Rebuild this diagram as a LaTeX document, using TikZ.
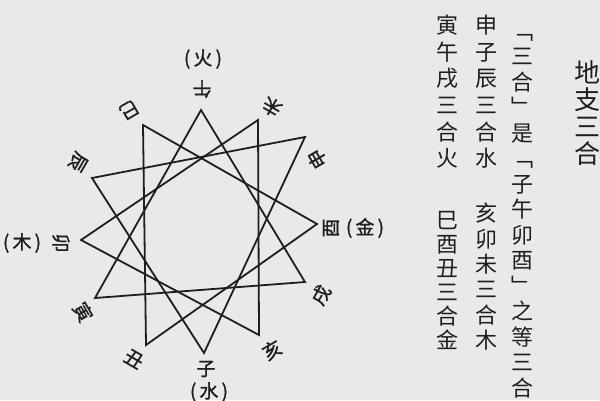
\documentclass[tikz,border=0pt]{standalone}
\usepackage{fontspec}
\newfontfamily\hanzi{Noto Sans CJK TC}
\newfontfamily\hanzibold[FakeBold=1.2]{Noto Sans CJK TC}
\usepackage{tikz}
\definecolor{paper}{RGB}{233,233,234}
\definecolor{ink}{RGB}{30,30,32}

\begin{document}
\begin{tikzpicture}%
        [x=1pt, y=-1pt,
        edge/.style={color=ink, line width=1.8pt, line join=miter},
        branch/.style={inner sep=0pt, text=ink, font=\hanzibold\fontsize{19}{19}\selectfont},
        element/.style={inner sep=0pt, text=ink, font=\hanzibold\fontsize{19}{19}\selectfont},
        column/.style={inner sep=0pt, anchor=north, align=center, text=ink, font=\hanzi\fontsize{22}{25.5}\selectfont},
        title/.style={inner sep=0pt, anchor=north, align=center, text=ink, font=\hanzi\fontsize{26}{27}\selectfont}]

    %% The page
    \fill[paper] (0,0) rectangle (600,400);
    \useasboundingbox (0,0) rectangle (600,400);
    \clip (0,0) rectangle (600,400);
    %%
    %% Coordinate of the twelve branches:
    %%
    \coordinate (wu)   at (201,110);
    \coordinate (wei)  at (258,120);
    \coordinate (shen) at (305,137);
    \coordinate (you)  at (317,224);
    \coordinate (xu)   at (305,282);
    \coordinate (hai)  at (259,335);
    \coordinate (zi)   at (204,353);
    \coordinate (chou) at (146,345);
    \coordinate (yin)  at (95,298);
    \coordinate (mao)  at (81,240);
    \coordinate (chen) at (92,178);
    \coordinate (si)   at (143,125);
    %%
    %% Drawing the four triangles
    %%
    \draw[edge] (shen) -- (zi) -- (chen) -- cycle;
    \draw[edge] (hai) -- (mao) -- (wei) -- cycle;
    \draw[edge] (yin) -- (wu) -- (xu) -- cycle;
    \draw[edge] (si) -- (you) -- (chou) -- cycle;
    %%
    %% Naming the branches
    %%
    \node[branch, rotate=180]  (wu label)   at (202,89)  {午};
    \node[branch, rotate=150]  (wei label)  at (272,107) {未};
    \node[branch, rotate=120]  (shen label) at (317,159) {申};
    \node[branch, rotate=90]   (you label)  at (331,228) {酉};
    \node[branch, rotate=60]   (xu label)   at (321,295) {戌};
    \node[branch, rotate=30]   (hai label)  at (272,350) {亥};
    \node[branch]              (zi label)   at (206,369) {子};
    \node[branch, rotate=-30]  (chou label) at (134,359) {丑};
    \node[branch, rotate=-60]  (yin label)  at (83,312)  {寅};
    \node[branch, rotate=-90]  (mao label)  at (61,243)  {卯};
    \node[branch, rotate=-120] (chen label) at (78,162)  {辰};
    \node[branch, rotate=-150] (si label)   at (129,110) {巳};
    %%
    \node[element] (fire)  at (203,59)  {(\,火\,)};
    \node[element] (metal) at (365,228) {(\,金\,)};
    \node[element] (water) at (209,392) {(\,水\,)};
    \node[element] (wood)  at (22,243)  {(\,木\,)};
    %%
    %% The text beside it
    %%
    \node[title] (heading) at (587,60) {地\\支\\三\\合};
    \node[column] (note) at (522,34)
        {﹁\\三\\合\\﹂\\是\\﹁\\子\\午\\卯\\酉\\﹂\\之\\等\\三\\合};
    \node[column, font=\hanzi\fontsize{22}{26.6}\selectfont] (water rule) at (486,15) {申\\子\\辰\\三\\合\\水};
    \node[column, font=\hanzi\fontsize{22}{25.3}\selectfont] (wood rule)  at (486,203) {亥\\卯\\未\\三\\合\\木};
    \node[column, font=\hanzi\fontsize{22}{26.6}\selectfont] (fire rule)  at (447,15) {寅\\午\\戌\\三\\合\\火};
    \node[column, font=\hanzi\fontsize{22}{24}\selectfont]   (metal rule) at (447,211) {巳\\酉\\丑\\三\\合\\金};
    %%
\end{tikzpicture}
\end{document}
